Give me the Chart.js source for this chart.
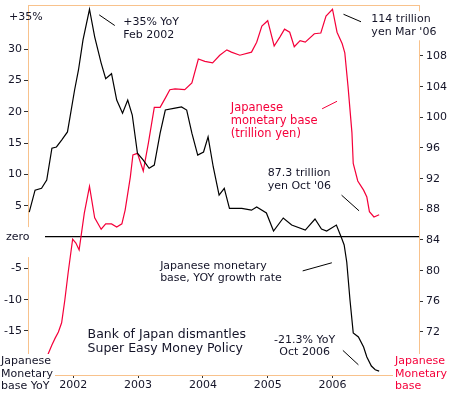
<!DOCTYPE html>
<html>
<head>
<meta charset="utf-8">
<script src="https://cdn.jsdelivr.net/npm/chart.js@4"></script>
<style>
  html, body { margin: 0; padding: 0; background: #fff; }
  #wrap { width: 449px; height: 398px; }
</style>
</head>
<body>
<div id="wrap"><canvas id="c" width="449" height="398"></canvas></div>
<script>
// ---- Data ----
// Japanese monetary base, YoY growth rate (%), x = decimal year
const yoyYears = [2001.32, 2001.41, 2001.51, 2001.59, 2001.67, 2001.74, 2001.82, 2001.91, 2001.95, 2002.02,
  2002.08, 2002.15, 2002.25, 2002.33, 2002.43, 2002.50, 2002.59, 2002.67, 2002.76, 2002.84,
  2002.91, 2002.99, 2003.08, 2003.17, 2003.25, 2003.34, 2003.42, 2003.57, 2003.67, 2003.75,
  2003.83, 2003.92, 2004.01, 2004.08, 2004.16, 2004.25, 2004.33, 2004.41, 2004.60, 2004.75,
  2004.83, 2004.98, 2005.09, 2005.24, 2005.37, 2005.58, 2005.73, 2005.83, 2005.91, 2006.06,
  2006.14, 2006.18, 2006.22, 2006.27, 2006.32, 2006.40, 2006.48, 2006.53, 2006.60, 2006.66, 2006.72];
const yoyValues = [4.0, 7.5, 7.8, 9.1, 14.2, 14.4, 15.5, 16.8, 19.2, 23.5,
  26.7, 31.5, 36.4, 32.0, 27.8, 25.3, 26.1, 21.9, 19.8, 21.9,
  19.5, 13.4, 12.3, 11.0, 11.5, 16.6, 20.3, 20.6, 20.8, 20.3,
  16.6, 13.1, 13.6, 16.0, 11.2, 6.7, 7.8, 4.6, 4.6, 4.3,
  4.8, 3.85, 0.97, 3.05, 1.93, 1.13, 2.89, 1.29, 0.97, 1.93,
  -0.14, -1.26, -3.98, -10.05, -15.3, -15.96, -17.56, -19.15, -20.6, -21.2, -21.4];

// Japanese monetary base (trillion yen), x = decimal year
const baseYears = [2001.61, 2001.67, 2001.72, 2001.77, 2001.82, 2001.87, 2001.92, 2001.99, 2002.04, 2002.09,
  2002.17, 2002.25, 2002.33, 2002.43, 2002.50, 2002.59, 2002.67, 2002.75, 2002.80, 2002.88,
  2002.92, 2002.99, 2003.08, 2003.16, 2003.25, 2003.34, 2003.42, 2003.49, 2003.57, 2003.72,
  2003.83, 2003.93, 2004.03, 2004.15, 2004.26, 2004.37, 2004.44, 2004.57, 2004.75, 2004.83,
  2004.91, 2005.00, 2005.10, 2005.19, 2005.26, 2005.34, 2005.41, 2005.50, 2005.58, 2005.72,
  2005.82, 2005.90, 2006.00, 2006.07, 2006.15, 2006.19, 2006.24, 2006.30, 2006.32, 2006.39,
  2006.48, 2006.53, 2006.57, 2006.64, 2006.72];
const baseValues = [69.1, 70.3, 71.2, 72.0, 73.2, 76.2, 79.7, 84.1, 83.6, 82.7,
  87.5, 91.0, 86.9, 85.4, 86.1, 86.1, 85.7, 86.1, 87.9, 92.2,
  95.1, 95.3, 93.0, 96.7, 101.3, 101.3, 102.5, 103.6, 103.7, 103.6,
  104.5, 107.6, 107.3, 107.1, 108.1, 108.8, 108.5, 108.1, 108.5, 109.8,
  111.9, 112.6, 109.3, 110.5, 111.5, 111.1, 109.2, 110.0, 109.8, 110.9,
  111.0, 113.2, 114.1, 111.1, 109.6, 108.4, 104.0, 98.0, 94.0, 91.7,
  90.5, 89.6, 87.7, 87.0, 87.3];

// Tick values
const yearTicks = [2002, 2003, 2004, 2005, 2006];
const leftTicks = [-15, -10, -5, 0, 5, 10, 15, 20, 25, 30, 35];
const rightTicks = [72, 76, 80, 84, 88, 92, 96, 100, 104, 108, 112];

// Axis ranges
const xRange = [2001.301, 2007.335];
const leftRange = [-22.03, 37.08];
const rightRange = [66.39, 114.65];

// ---- Styles ----
const FONT = 'DejaVu Sans, Verdana, sans-serif';
const ORANGE = '#f8c28c';
const RED = '#f5003a';
const INK = '#141428';

// Annotations: anchor in data space (x: year, y: left-axis %)
const texts = [
  { lines: ['+35% YoY', 'Feb 2002'], x: 2002.77, y: 34.3, color: INK, size: 11, lh: 13, align: 'left' },
  { lines: ['114 trillion', "yen Mar '06"], x: 2006.60, y: 34.8, color: INK, size: 11, lh: 13, align: 'left', box: true },
  { lines: ['Japanese', 'monetary base', '(trillion yen)'], x: 2004.43, y: 20.6, color: RED, size: 11.5, lh: 13, align: 'left' },
  { lines: ['87.3 trillion', "yen Oct '06"], x: 2005.00, y: 10.2, color: INK, size: 11, lh: 13, align: 'left' },
  { lines: ['Japanese monetary', 'base, YOY growth rate'], x: 2003.34, y: -4.57, color: INK, size: 11, lh: 12.6, align: 'left' },
  { lines: ['-21.3% YoY', 'Oct 2006'], x: 2005.57, y: -16.5, color: INK, size: 11, lh: 12, align: 'center' },
  { lines: ['Bank of Japan dismantles', 'Super Easy Money Policy'], x: 2002.22, y: -15.6, color: INK, size: 12.5, lh: 13.5, align: 'left' }
];
const leaders = [
  { x1: 2002.40, y1: 35.5, x2: 2002.64, y2: 33.8, color: '#000' },
  { x1: 2006.17, y1: 35.6, x2: 2006.44, y2: 34.4, color: '#000' },
  { x1: 2005.84, y1: 20.5, x2: 2006.07, y2: 21.7, color: RED },
  { x1: 2006.14, y1: 6.7, x2: 2006.41, y2: 4.2, color: '#000' },
  { x1: 2005.54, y1: -5.4, x2: 2005.99, y2: -4.1, color: '#000' },
  { x1: 2006.16, y1: -18.1, x2: 2006.40, y2: -20.4, color: '#000' }
];

const annotationPlugin = {
  id: 'annot',
  beforeDraw(chart) {
    const ctx = chart.ctx;
    ctx.save();
    ctx.fillStyle = '#fff';
    ctx.fillRect(0, 0, chart.width, chart.height);
    ctx.restore();
  },
  beforeDatasetsDraw(chart) {
    const { ctx, chartArea } = chart;
    ctx.save();
    ctx.strokeStyle = ORANGE;
    ctx.lineWidth = 1;
    ctx.beginPath();
    ctx.moveTo(chartArea.left, Math.round(chartArea.top) + 0.5);
    ctx.lineTo(chartArea.right, Math.round(chartArea.top) + 0.5);
    ctx.stroke();
    ctx.restore();
  },
  afterDraw(chart) {
    const { ctx, chartArea } = chart;
    const xs = chart.scales.x, ys = chart.scales.y;
    ctx.save();
    // leader lines
    leaders.forEach(l => {
      ctx.strokeStyle = l.color;
      ctx.lineWidth = 1;
      ctx.beginPath();
      ctx.moveTo(xs.getPixelForValue(l.x1), ys.getPixelForValue(l.y1));
      ctx.lineTo(xs.getPixelForValue(l.x2), ys.getPixelForValue(l.y2));
      ctx.stroke();
    });
    // text annotations
    ctx.textBaseline = 'middle';
    texts.forEach(t => {
      ctx.font = t.size + 'px ' + FONT;
      const px = xs.getPixelForValue(t.x), py = ys.getPixelForValue(t.y);
      if (t.box) {
        ctx.fillStyle = '#fff';
        ctx.fillRect(px - 3, py - 8, chart.width - px + 3, t.lines.length * t.lh + 3);
      }
      ctx.fillStyle = t.color;
      ctx.textAlign = t.align;
      t.lines.forEach((s, i) => ctx.fillText(s, px, py + i * t.lh));
    });
    // left axis special labels
    ctx.font = '11px ' + FONT;
    ctx.textAlign = 'left';
    const y0 = ys.getPixelForValue(0);
    ctx.fillStyle = '#fff';
    ctx.fillRect(0, y0 - 10, chartArea.left + 17, 30);
    ctx.fillStyle = INK;
    ctx.fillText('zero', 6, y0);
    ctx.fillText('+35%', 9, ys.getPixelForValue(35) - 1);
    // bottom-left axis title (black) and bottom-right (red)
    ctx.fillStyle = '#fff';
    ctx.fillRect(0, chartArea.bottom - 21, chartArea.left + 27, chart.height);
    ctx.fillRect(chartArea.right - 26, chartArea.bottom - 21, chart.width, chart.height);
    ctx.fillStyle = INK;
    ['Japanese', 'Monetary', 'base YoY'].forEach((s, i) => ctx.fillText(s, 1, chartArea.bottom - 13.5 + i * 12.5));
    ctx.fillStyle = RED;
    ['Japanese', 'Monetary', 'base'].forEach((s, i) => ctx.fillText(s, chartArea.right - 24, chartArea.bottom - 13.5 + i * 12.5));
    ctx.restore();
  }
};

Chart.defaults.font.family = FONT;
Chart.defaults.font.size = 11;
Chart.defaults.color = INK;

new Chart(document.getElementById('c'), {
  type: 'line',
  data: {
    datasets: [
      {
        label: 'Japanese monetary base, YOY growth rate',
        data: yoyYears.map((x, i) => ({ x, y: yoyValues[i] })),
        yAxisID: 'y',
        borderColor: '#000',
        borderWidth: 1.2,
        pointRadius: 0,
        tension: 0,
        fill: false
      },
      {
        label: 'Japanese monetary base (trillion yen)',
        data: baseYears.map((x, i) => ({ x, y: baseValues[i] })),
        yAxisID: 'y1',
        borderColor: RED,
        borderWidth: 1.2,
        pointRadius: 0,
        tension: 0,
        fill: false
      }
    ]
  },
  options: {
    responsive: false,
    animation: false,
    events: [],
    layout: { padding: { top: 5, left: 0, right: 0, bottom: 0 } },
    plugins: { legend: { display: false }, tooltip: { enabled: false } },
    scales: {
      x: {
        type: 'linear',
        position: 'bottom',
        min: xRange[0],
        max: xRange[1],
        afterBuildTicks: s => { s.ticks = yearTicks.map(v => ({ value: v })); },
        afterFit: s => { s.height = 23; s.paddingLeft = 0; s.paddingRight = 0; },
        ticks: { callback: v => String(v), padding: 1, maxRotation: 0, autoSkip: false, color: INK, font: { size: 11 } },
        grid: { drawOnChartArea: false, tickLength: 3, tickColor: '#333' },
        border: { color: ORANGE, width: 1 }
      },
      y: {
        type: 'linear',
        position: 'left',
        min: leftRange[0],
        max: leftRange[1],
        afterBuildTicks: s => { s.ticks = leftTicks.map(v => ({ value: v })); },
        afterFit: s => { s.width = 28; s.paddingTop = 0; s.paddingBottom = 0; },
        ticks: { callback: v => (v === 0 || v === 35) ? '' : String(v), padding: 2, color: INK, font: { size: 11 } },
        grid: {
          drawOnChartArea: true,
          tickLength: 4,
          color: c => (c.tick && c.tick.value === 0) ? '#000' : 'rgba(0,0,0,0)',
          lineWidth: c => (c.tick && c.tick.value === 0) ? 1.3 : 1,
          tickColor: c => (c.tick && (c.tick.value === 0 || c.tick.value === 35)) ? 'rgba(0,0,0,0)' : '#333'
        },
        border: { color: ORANGE, width: 1 }
      },
      y1: {
        type: 'linear',
        position: 'right',
        min: rightRange[0],
        max: rightRange[1],
        afterBuildTicks: s => { s.ticks = rightTicks.map(v => ({ value: v })); },
        afterFit: s => { s.width = 30; s.paddingTop = 0; s.paddingBottom = 0; },
        ticks: { callback: v => String(v), padding: 3, color: INK, font: { size: 11 } },
        grid: { drawOnChartArea: false, tickLength: 4, tickColor: '#333' },
        border: { color: ORANGE, width: 1 }
      }
    }
  },
  plugins: [annotationPlugin]
});
</script>
</body>
</html>
